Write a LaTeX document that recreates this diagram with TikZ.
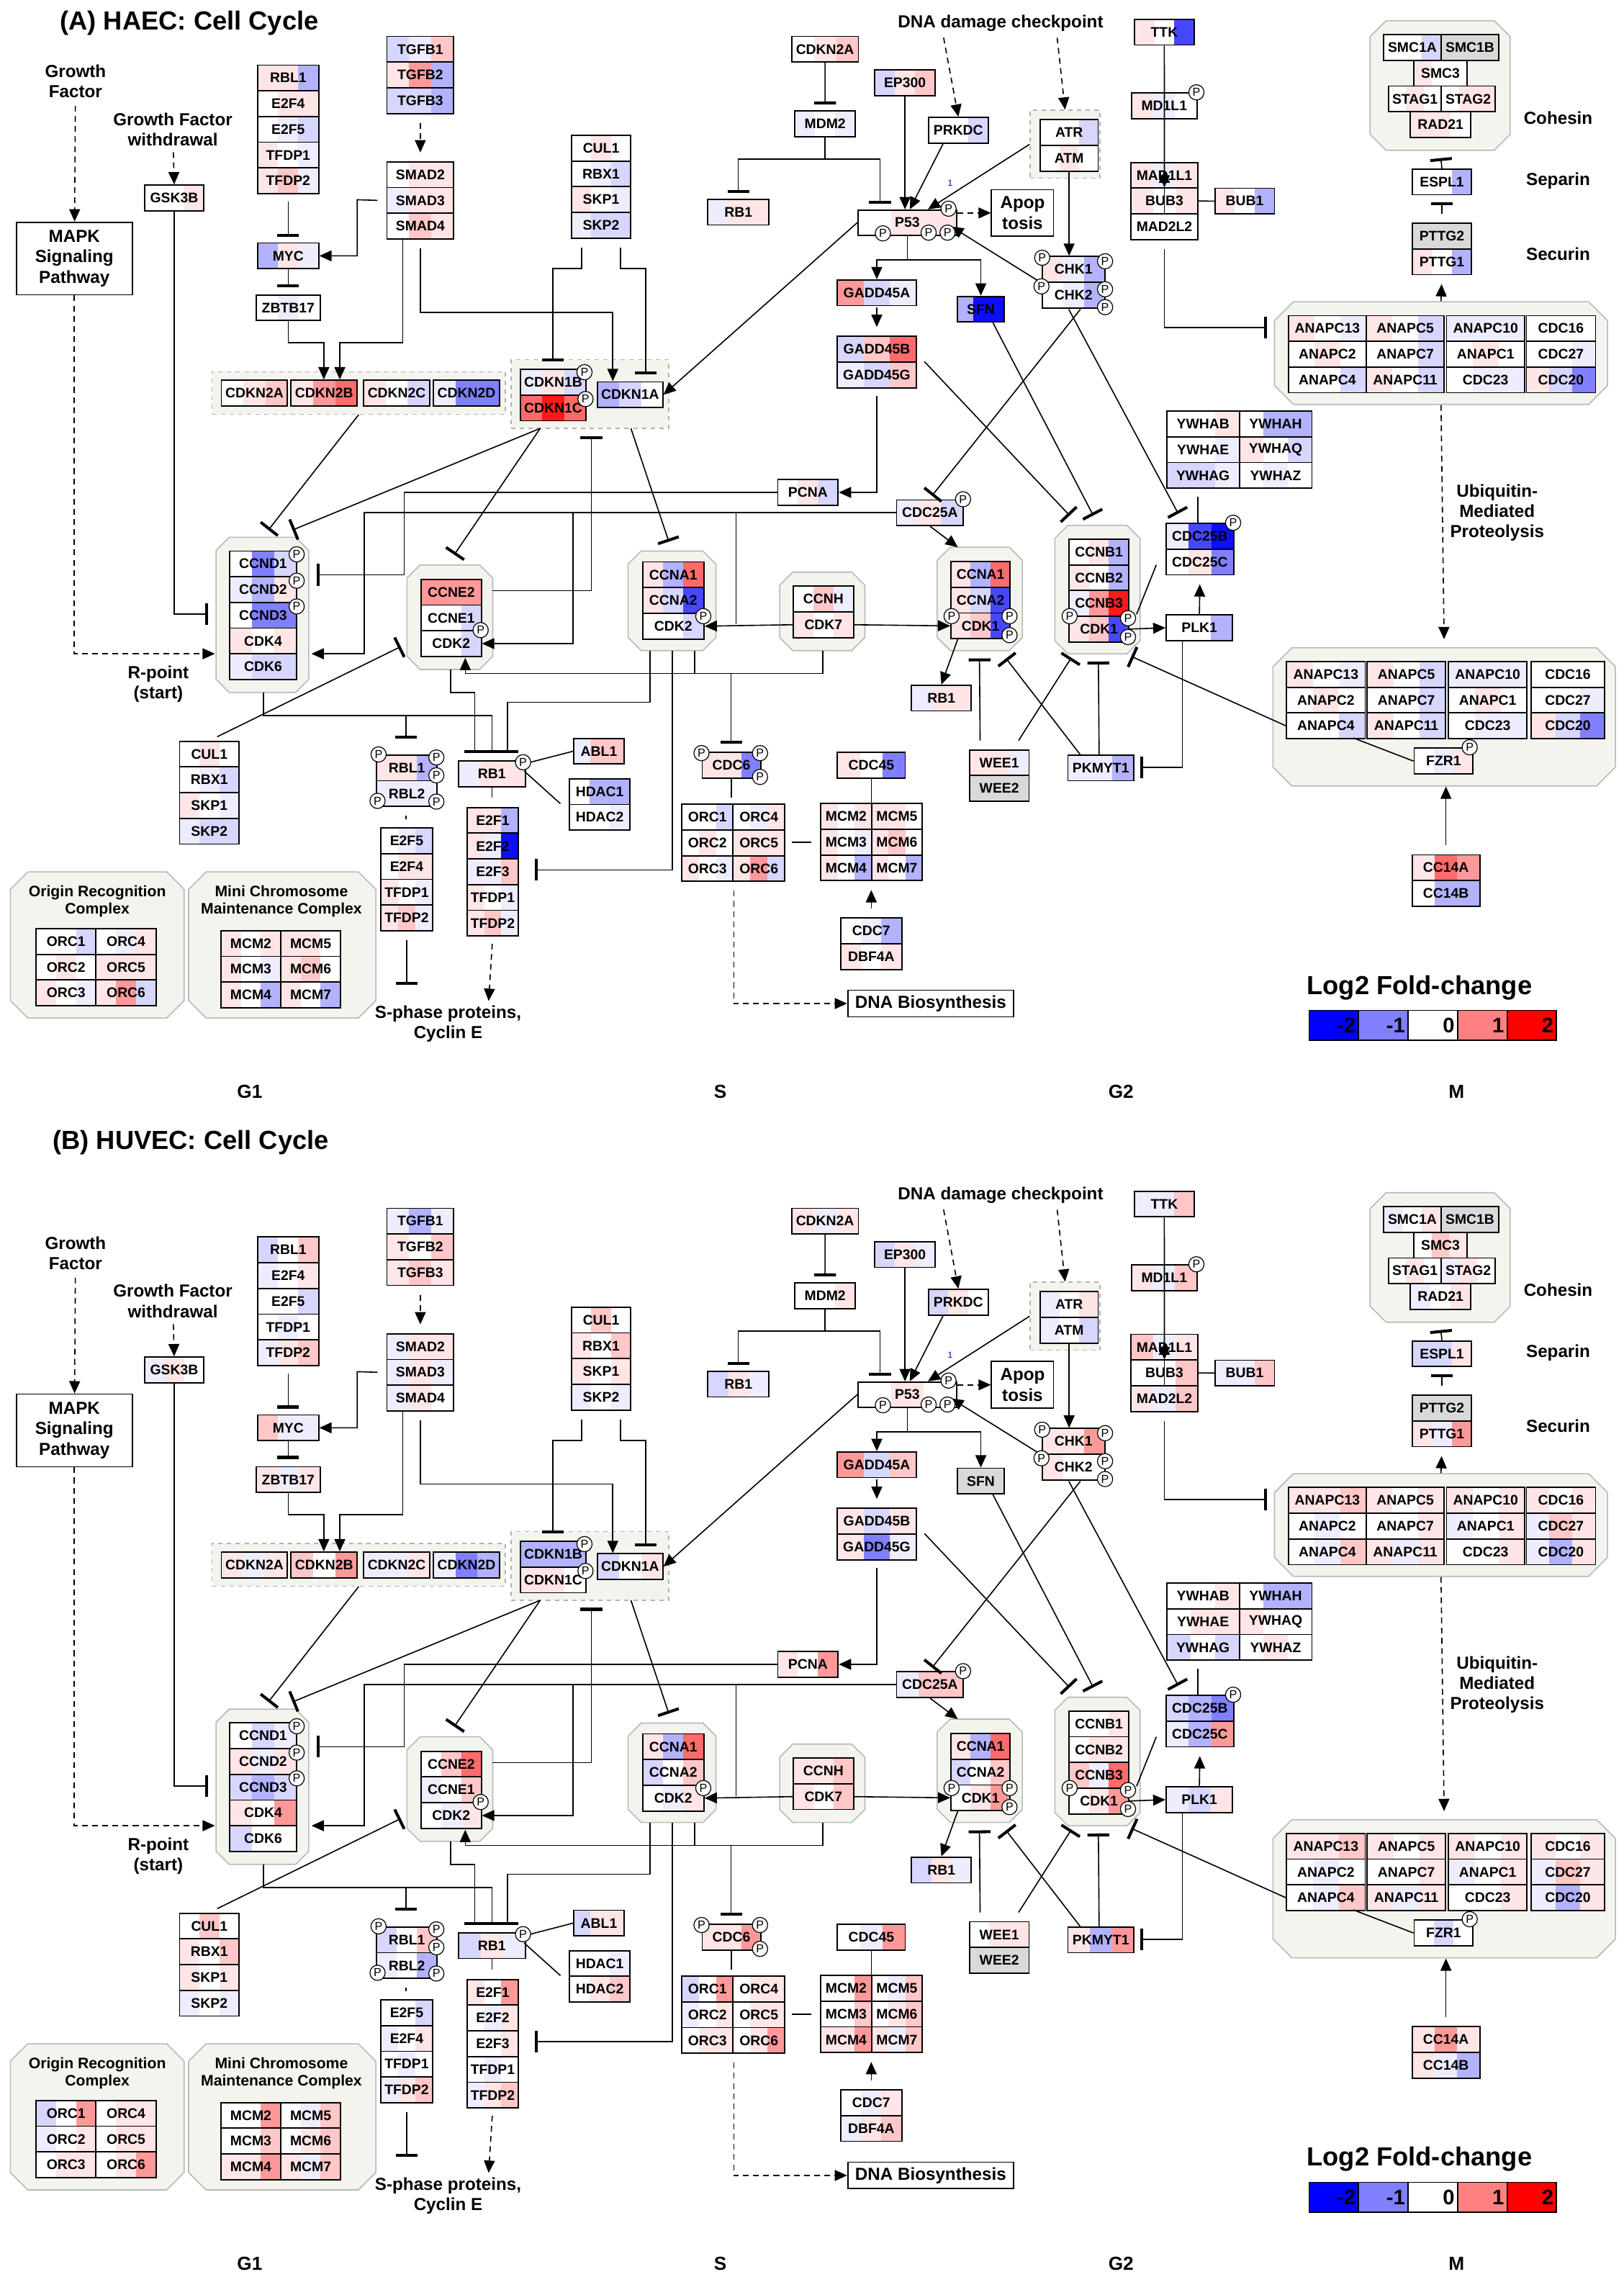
\documentclass[tikz,border=0pt]{standalone}
\usepackage{fontspec}
\setmainfont{Liberation Sans}
\usetikzlibrary{arrows.meta,calc}

\colorlet{w0}{white}
\colorlet{r1}{red!10}
\colorlet{r2}{red!22}
\colorlet{r3}{red!40}
\colorlet{r4}{red!58}
\colorlet{r5}{red!90}
\colorlet{b1}{blue!7}
\colorlet{b2}{blue!16}
\colorlet{b3}{blue!30}
\colorlet{b4}{blue!50}
\colorlet{b5}{blue!72}
\colorlet{b6}{blue!95}
\colorlet{gy}{gray!30}
\definecolor{cxfill}{RGB}{244,244,238}

\newcommand\gfont{\fontsize{9.6}{10}\selectfont\bfseries}
\newcommand\lfont{\fontsize{12}{14}\selectfont\bfseries}

% fold-change colours of each gene, three stripes per box
\newcommand\setgenes[2]{\foreach \g/\ca/\cb/\cc in {#2}{\expandafter\xdef\csname c-#1-\g\endcsname{{\ca}{\cb}{\cc}}}}
\newcommand\stripes[1]{\expandafter\expandafter\expandafter\stripesdo\csname c-\pnl-#1\endcsname}
\newcommand\stripesdo[3]{%
  \fill[#1] (path picture bounding box.south west) rectangle ($(path picture bounding box.north west)!1/3!(path picture bounding box.north east)$);
  \fill[#2] ($(path picture bounding box.south west)!1/3!(path picture bounding box.south east)$) rectangle ($(path picture bounding box.north west)!2/3!(path picture bounding box.north east)$);
  \fill[#3] ($(path picture bounding box.south west)!2/3!(path picture bounding box.south east)$) rectangle (path picture bounding box.north east);}
\newcommand\gstack[5]{\foreach \g [count=\i from 0] in {#5}{\node[gene=\g, minimum width=#4pt] (#1\i) at (#2,{#3+17.7*\i}) {\g};}}
% complex: name, x1, y1, x2, y2, chamfer
\newcommand\cpx[6]{%
  \draw[cxs] ({#2+#6},#3) -- ({#4-#6},#3) -- (#4,{#3+#6}) -- (#4,{#5-#6}) -- ({#4-#6},#5) -- ({#2+#6},#5) -- (#2,{#5-#6}) -- (#2,{#3+#6}) -- cycle;
  \node[inner sep=0pt, minimum width={(#4)-(#2)}, minimum height={(#5)-(#3)}] (#1) at ({(#2+#4)/2},{(#3+#5)/2}) {};}

\setgenes{A}{GSK3B/w0/w0/r1, RBL1/r1/r1/b3, RBL2/b1/b1/b1, E2F4/w0/r1/r1, E2F5/w0/b1/b2, TFDP1/r1/w0/b1, TFDP2/r1/r2/b1, MYC/b3/r1/b1, ZBTB17/w0/b1/w0, TGFB1/b2/b1/r2, TGFB2/r1/r3/b3, TGFB3/b2/b2/b3, SMAD2/w0/r1/r1, SMAD3/b1/r1/r1, SMAD4/w0/r2/r1, CDKN2A/w0/r1/r2, CDKN2B/r1/r3/r4, CDKN2C/r1/w0/b2, CDKN2D/b1/b4/b4, CDKN1B/b1/r1/b2, CDKN1C/r4/r5/r4, CDKN1A/b3/b2/w0, CUL1/w0/r1/w0, RBX1/w0/b1/b2, SKP1/r1/w0/b1, SKP2/b1/b2/b2, MDM2/b1/w0/b1, RB1/b1/r1/r1, EP300/b2/r1/r2, PRKDC/w0/w0/b2, ATR/w0/w0/b2, ATM/w0/r1/w0, P53/w0/r1/r1, GADD45A/r3/b2/b1, GADD45B/b2/r2/r4, GADD45G/b1/b2/r2, SFN/b3/b6/b6, CHK1/r1/b1/b3, CHK2/w0/b1/b3, PCNA/w0/r1/b2, CDC25A/b1/r1/b2, TTK/r1/w0/b5, MD1L1/r1/b1/w0, MAD1L1/r1/b1/r1, BUB3/r1/w0/r1, MAD2L2/w0/w0/w0, BUB1/r1/w0/b3, SMC1A/w0/w0/b2, SMC1B/gy/gy/gy, SMC3/r1/w0/w0, STAG1/w0/r1/w0, STAG2/w0/r1/r1, RAD21/r1/r1/w0, ESPL1/w0/w0/b3, PTTG2/gy/gy/gy, PTTG1/r1/w0/b3, ANAPC13/r1/w0/b1, ANAPC5/r1/w0/b2, ANAPC10/b1/b1/b1, CDC16/w0/w0/w0, ANAPC2/w0/r1/w0, ANAPC7/w0/w0/b2, ANAPC1/w0/r1/w0, CDC27/w0/w0/b1, ANAPC4/w0/w0/b2, ANAPC11/r1/w0/b2, CDC23/w0/b1/b1, CDC20/r1/b2/b4, YWHAB/w0/w0/r1, YWHAH/w0/b3/b3, YWHAE/w0/w0/b1, YWHAQ/r1/w0/b2, YWHAG/b2/b2/b1, YWHAZ/w0/b1/w0, CDC25B/b1/b5/b6, CDC25C/w0/r1/b4, PLK1/w0/w0/b3, CCNB1/w0/r1/b3, CCNB2/r1/w0/b3, CCNB3/b1/r3/r5, CDK1/r1/r2/b5, CCNA1/r1/b3/r4, CCNA2/r1/b2/b5, CDK2/w0/w0/b2, CCNH/w0/r2/b1, CDK7/r1/w0/r1, CCNE2/r3/r3/r3, CCNE1/w0/w0/b2, CCND1/w0/b4/b2, CCND2/b1/b3/r1, CCND3/w0/b4/b4, CDK4/r1/w0/r1, CDK6/b1/b2/b2, E2F1/r1/r1/b3, E2F2/r1/b1/b6, E2F3/b1/b1/r2, ABL1/b1/r2/r2, HDAC1/w0/b3/b3, HDAC2/w0/w0/b1, CDC6/r1/r1/b4, ORC1/w0/w0/b2, ORC2/w0/r1/w0, ORC3/r1/w0/b1, ORC4/w0/b1/r1, ORC5/r1/r1/r1, ORC6/r1/r3/b2, MCM2/r1/w0/r1, MCM3/r1/w0/b1, MCM4/r1/w0/b3, MCM5/r1/r1/w0, MCM6/r1/r2/w0, MCM7/r1/w0/b3, CDC45/r1/w0/b4, CDC7/w0/b1/b3, DBF4A/r1/w0/r1, WEE1/r1/r1/b1, WEE2/gy/gy/gy, PKMYT1/b1/b1/b3, CC14A/r1/r4/r3, CC14B/w0/b3/b3, FZR1/w0/b1/r1}
\setgenes{B}{GSK3B/b1/r1/w0, RBL1/b2/w0/r2, RBL2/b1/w0/b3, E2F4/b1/w0/r1, E2F5/w0/w0/b2, TFDP1/w0/b1/w0, TFDP2/b1/r1/r2, MYC/r2/b1/b1, ZBTB17/r1/b1/r1, TGFB1/b1/b3/b1, TGFB2/r1/w0/r2, TGFB3/r1/r2/r1, SMAD2/b1/r1/r1, SMAD3/b1/r1/b1, SMAD4/b1/r1/w0, CDKN2A/r1/b1/r1, CDKN2B/r2/w0/r3, CDKN2C/b1/b1/r1, CDKN2D/b1/b4/b3, CDKN1B/b3/b3/b3, CDKN1C/r1/r1/w0, CDKN1A/b2/w0/r1, CUL1/w0/r2/w0, RBX1/r1/w0/r2, SKP1/r1/w0/r1, SKP2/b1/w0/b1, MDM2/w0/w0/r1, RB1/b2/r1/b1, EP300/b2/r1/b1, PRKDC/b2/r1/w0, ATR/b1/w0/r1, ATM/b1/w0/b2, P53/w0/r1/w0, GADD45A/r3/b2/r2, GADD45B/r1/b2/r1, GADD45G/r1/b4/b1, SFN/gy/gy/gy, CHK1/r1/r1/r3, CHK2/r1/w0/w0, PCNA/r1/w0/r3, CDC25A/b1/r2/r2, TTK/b1/b1/r2, MD1L1/r1/b1/r2, MAD1L1/r2/b1/r1, BUB3/w0/w0/r2, MAD2L2/r1/b1/r2, BUB1/b1/b1/r2, SMC1A/b1/w0/r1, SMC1B/gy/gy/gy, SMC3/w0/r2/r1, STAG1/w0/r1/w0, STAG2/b1/r1/w0, RAD21/b1/w0/r1, ESPL1/b2/b2/r1, PTTG2/gy/gy/gy, PTTG1/r1/b1/r3, ANAPC13/r1/r1/r2, ANAPC5/r1/w0/r1, ANAPC10/r1/w0/r1, CDC16/r1/w0/r1, ANAPC2/w0/b1/w0, ANAPC7/w0/w0/r1, ANAPC1/b1/w0/r1, CDC27/b1/r2/r1, ANAPC4/w0/b1/r2, ANAPC11/r1/b1/r1, CDC23/w0/w0/r1, CDC20/b1/b3/r1, YWHAB/w0/w0/r1, YWHAH/w0/b3/b3, YWHAE/w0/r1/r1, YWHAQ/r1/w0/w0, YWHAG/b2/w0/b2, YWHAZ/w0/r1/w0, CDC25B/b2/b3/b4, CDC25C/b1/b3/r3, PLK1/b1/b2/r1, CCNB1/w0/w0/r1, CCNB2/w0/r1/r1, CCNB3/r2/b1/r4, CDK1/w0/r1/r3, CCNA1/r1/b3/r4, CCNA2/b2/w0/r2, CDK2/w0/b1/r1, CCNH/r1/r1/r2, CDK7/r1/w0/r2, CCNE2/w0/r2/r4, CCNE1/b1/w0/r2, CCND1/w0/b2/b1, CCND2/r1/b1/r1, CCND3/b2/b3/b2, CDK4/r1/w0/r3, CDK6/b2/w0/w0, E2F1/r1/w0/r3, E2F2/w0/b1/r1, E2F3/w0/w0/r1, ABL1/b2/r1/r1, HDAC1/w0/w0/b1, HDAC2/w0/r1/r2, CDC6/r1/r1/r3, ORC1/b2/w0/r3, ORC2/b1/w0/r1, ORC3/w0/r1/r1, ORC4/w0/r1/r1, ORC5/w0/r1/r1, ORC6/w0/r1/r3, MCM2/w0/w0/r3, MCM3/w0/w0/r2, MCM4/r1/r1/r3, MCM5/w0/b1/r2, MCM6/w0/r1/r2, MCM7/r1/b1/r2, CDC45/w0/b1/r3, CDC7/w0/b1/r1, DBF4A/b1/r1/r2, WEE1/w0/r1/r1, WEE2/gy/gy/gy, PKMYT1/r1/b3/r3, CC14A/r1/r3/r1, CC14B/r1/b1/b3, FZR1/w0/b2/w0}

\begin{document}
\begin{tikzpicture}[x=1pt, y=-1pt, line width=0.8pt,
  gene/.style={draw, line width=0.9pt, anchor=north west, minimum height=17.7pt, inner sep=0pt, font=\gfont, path picture={\stripes{#1}}},
  lab/.style={font=\lfont, align=center, inner sep=0pt},
  box/.style={draw, line width=0.9pt, font=\lfont, align=center, inner sep=0pt},
  cxs/.style={draw=gray!55, fill=cxfill, line width=0.8pt},
  grp/.style={draw=gray!60, dashed, fill=cxfill, inner sep=0pt, line width=0.7pt},
  phos/.style={circle, draw, fill=white, inner sep=0pt, minimum size=10.5pt, line width=0.6pt, font=\fontsize{8}{8}\selectfont},
  act/.style={-{Triangle[width=7.5pt,length=8.5pt]}},
  dact/.style={act, dash pattern=on 4pt off 3pt},
  inh/.style={-{Bar[width=15pt,line width=2pt]}}]
\fill[white] (0,0) rectangle (1118,1568);
\useasboundingbox (0,0) rectangle (1118,1568);
\foreach \pnl/\dy/\tx/\ty/\ttl in {A/0/41/16/{(A) HAEC: Cell Cycle}, B/807/36/-20/{(B) HUVEC: Cell Cycle}} {
\begin{scope}[yshift=-\dy pt]
% titles and phases
\node[font=\fontsize{18}{20}\selectfont\bfseries, anchor=west, inner sep=0pt] (ttl) at (\tx,\ty) {\ttl};
\foreach \lab/\lx [count=\k] in {G1/172, S/496, G2/772, M/1003}
  \node[font=\fontsize{13}{15}\selectfont\bfseries] (phase\k) at (\lx,752) {\lab};
% legend
\node[font=\fontsize{18}{20}\selectfont\bfseries] (lgt) at (977.5,680) {Log2 Fold-change};
\foreach \v/\cl [count=\k from 0] in {-2/blue, -1/blue!50, 0/white, 1/red!50, 2/red}
  \node[draw, line width=0.9pt, fill=\cl, anchor=north west, minimum width=34.1pt, minimum height=20.6pt, inner sep=1pt, text width=30pt, align=right, font=\fontsize{14.5}{15}\selectfont\bfseries] (lg\k) at ({901+34.1*\k},695.3) {\v};

% complexes (drawn first, genes go on top)
\cpx{coh}{943.5}{14.3}{1040}{103.5}{11}
\cpx{apt}{877.7}{207.8}{1107}{278.5}{13}
\cpx{cbx}{726.4}{361.8}{785.1}{450.2}{9}
\cpx{c1x}{645.4}{376.8}{704}{448}{9}
\cpx{chx}{536.9}{394}{595.6}{448}{9}
\cpx{c2x}{432.6}{379.5}{493}{448}{9}
\cpx{cex}{280.3}{389}{339.3}{461}{9}
\cpx{cdx}{148.8}{370}{212.6}{476.8}{9}
\cpx{apl}{876.6}{446.1}{1112.5}{541.2}{13}
\cpx{orx}{7.1}{600.4}{126.8}{701}{12}
\cpx{mcx}{129.9}{600.4}{258.8}{701}{12}

% G1 side
\node[lab] (gf) at (52,56) {Growth\\Factor};
\node[box, minimum width=80pt, minimum height=50pt] (mapk) at (51.2,178) {MAPK\\Signaling\\Pathway};
\node[lab] (gfw) at (119,89) {Growth Factor\\withdrawal};
\node[lab] (rpt) at (109,471) {R-point\\(start)};
\node[gene=GSK3B, minimum width=41pt] (gsk) at (99,127) {GSK3B};
\gstack{ef}{177}{44.4}{42}{RBL1,E2F4,E2F5,TFDP1,TFDP2}
\node[gene=MYC, minimum width=42pt] (myc) at (177,166.9) {MYC};
\node[gene=ZBTB17, minimum width=44pt] (zbt) at (176,202.6) {ZBTB17};
\gstack{tg}{266}{24.6}{46}{TGFB1,TGFB2,TGFB3}
\gstack{sm}{266}{111}{46}{SMAD2,SMAD3,SMAD4}
\node[grp, minimum width=202pt, minimum height=29.3pt] (n2g) at (247,270.55) {};
\foreach \g/\gx [count=\k] in {CDKN2A/152, CDKN2B/200, CDKN2C/250, CDKN2D/298}
  \node[gene=\g, minimum width=45.5pt] (n2\k) at (\gx,261.3) {\g};
\node[grp, minimum width=108.6pt, minimum height=47.3pt] (k1g) at (406.3,271.35) {};
\gstack{kb}{358}{253.9}{45}{CDKN1B,CDKN1C}
\node[gene=CDKN1A, minimum width=45pt] (k1a) at (411,262.5) {CDKN1A};
\gstack{cu}{393}{92.7}{41}{CUL1,RBX1,SKP1,SKP2}

% p53 and DNA damage
\node[gene=CDKN2A, minimum width=46pt] (n2t) at (544.7,24.6) {CDKN2A};
\node[gene=MDM2, minimum width=41.5pt] (mdm) at (547,75.9) {MDM2};
\node[gene=RB1, minimum width=42pt] (rbt) at (487,136.8) {RB1};
\node[gene=EP300, minimum width=41.5pt] (ep) at (602,47.6) {EP300};
\node[gene=PRKDC, minimum width=41pt] (prk) at (639,80.4) {PRKDC};
\node[lab, anchor=west] (dna) at (618,16) {DNA damage checkpoint};
\node[grp, minimum width=48.1pt, minimum height=46.9pt] (atg) at (733.45,99.35) {};
\gstack{at}{715.8}{82}{40}{ATR,ATM}
\node[gene=P53, minimum width=68pt, minimum height=17.3pt] (p53) at (590.4,144.2) {P53};
\node[box, minimum width=42.7pt, minimum height=32.1pt] (apop) at (704.15,146.65) {Apop\\tosis};
\node[font=\fontsize{6}{7}\selectfont, text=blue!70!black, inner sep=0pt] (one) at (654.4,126.2) {1};
\node[gene=GADD45A, minimum width=54.3pt] (g5a) at (576.2,192.3) {GADD45A};
\gstack{g5}{576.2}{231.2}{54.3}{GADD45B,GADD45G}
\node[gene=SFN, minimum width=32pt] (sfn) at (659,203.6) {SFN};
\gstack{ck}{717.2}{176.2}{43.2}{CHK1,CHK2}
\node[gene=PCNA, minimum width=41.5pt] (pcna) at (535.2,329.8) {PCNA};
\node[gene=CDC25A, minimum width=46pt] (c5a) at (617,343.8) {CDC25A};

% spindle checkpoint, cohesin, APC/C
\node[gene=TTK, minimum width=41.3pt] (ttk) at (780.7,12.8) {TTK};
\node[gene=MD1L1, minimum width=45pt] (md1) at (778.8,63.6) {MD1L1};
\gstack{md}{778.4}{111.4}{46}{MAD1L1,BUB3,MAD2L2}
\node[gene=BUB1, minimum width=41pt] (bub1) at (836.2,129.2) {BUB1};
\node[gene=SMC1A, minimum width=39.7pt] (smca) at (952.3,23.4) {SMC1A};
\node[gene=SMC1B, minimum width=39.7pt] (smcb) at (992,23.4) {SMC1B};
\node[gene=SMC3, minimum width=37pt] (smc3) at (973,41.1) {SMC3};
\node[gene=STAG1, minimum width=36.1pt] (sta) at (955.9,58.8) {STAG1};
\node[gene=STAG2, minimum width=37.3pt] (stb) at (992,58.8) {STAG2};
\node[gene=RAD21, minimum width=41.5pt] (rad) at (970.8,76.5) {RAD21};
\node[gene=ESPL1, minimum width=41pt] (esp) at (972,115.9) {ESPL1};
\gstack{pt}{972}{153.3}{41}{PTTG2,PTTG1}
\node[lab] (lcoh) at (1073,81.3) {Cohesin};
\node[lab] (lsep) at (1073,124.5) {Separin};
\node[lab] (lsec) at (1073,175) {Securin};
\gstack{aa}{886.7}{216.9}{53.8}{ANAPC13,ANAPC2,ANAPC4}
\gstack{ab}{940.5}{216.9}{53.5}{ANAPC5,ANAPC7,ANAPC11}
\gstack{ac}{995.7}{216.9}{53.8}{ANAPC10,ANAPC1,CDC23}
\gstack{ad}{1050.7}{216.9}{47.6}{CDC16,CDC27,CDC20}
\node[lab] (ubq) at (1031,353) {Ubiquitin-\\Mediated\\Proteolysis};
\gstack{ya}{803}{282.7}{50}{YWHAB,YWHAE,YWHAG}
\gstack{yb}{853}{282.7}{50}{YWHAH,YWHAQ,YWHAZ}
\gstack{cc}{802.6}{360}{46.6}{CDC25B,CDC25C}
\node[gene=PLK1, minimum width=45.8pt] (plk) at (802.6,423) {PLK1};

% cyclin/CDK complexes
\gstack{nb}{735.9}{370.8}{40.9}{CCNB1,CCNB2,CCNB3,CDK1}
\gstack{na}{654.4}{386.3}{40.8}{CCNA1,CCNA2,CDK1}
\gstack{nh}{545.9}{403.2}{41.4}{CCNH,CDK7}
\gstack{nc}{442.1}{386.5}{42.2}{CCNA1,CCNA2,CDK2}
\gstack{ne}{289.6}{398.5}{41.4}{CCNE2,CCNE1,CDK2}
\gstack{nd}{157.6}{379}{46.2}{CCND1,CCND2,CCND3,CDK4,CDK6}

% lower G1 / S
\gstack{cl}{123.2}{510}{41}{CUL1,RBX1,SKP1,SKP2}
\gstack{rl}{259}{519.5}{41.5}{RBL1,RBL2}
\gstack{e5}{261.8}{569.7}{35.6}{E2F5,E2F4,TFDP1,TFDP2}
\node[gene=RB1, minimum width=46.2pt] (rbl) at (315.2,523.5) {RB1};
\gstack{e1}{321.1}{555.6}{35.5}{E2F1,E2F2,E2F3,TFDP1,TFDP2}
\node[gene=ABL1, minimum width=34.6pt] (abl) at (394.7,508) {ABL1};
\gstack{hd}{391.8}{535.8}{41.5}{HDAC1,HDAC2}
\node[lab] (sph) at (308.6,705) {S-phase proteins,\\Cyclin E};
\node[gene=CDC6, minimum width=40.3pt] (cdc6) at (483.1,517.6) {CDC6};
\gstack{oa}{469.1}{553.4}{35.3}{ORC1,ORC2,ORC3}
\gstack{ob}{504.4}{553.4}{35.6}{ORC4,ORC5,ORC6}
\gstack{ma}{564.8}{552.9}{34.9}{MCM2,MCM3,MCM4}
\gstack{mb}{599.7}{552.9}{35}{MCM5,MCM6,MCM7}
\node[gene=CDC45, minimum width=46.7pt] (c45) at (576.2,517.6) {CDC45};
\gstack{c7}{578.6}{631.7}{41.9}{CDC7,DBF4A}
\node[box, minimum width=114.2pt, minimum height=18.3pt] (dnab) at (640.9,691.05) {DNA Biosynthesis};
\node[gene=RB1, minimum width=41.2pt] (rbr) at (627.2,471.4) {RB1};
\gstack{we}{667.2}{515.9}{41}{WEE1,WEE2}
\node[gene=PKMYT1, minimum width=45.3pt] (pkm) at (735,519.5) {PKMYT1};

% M phase
\gstack{la}{885.5}{455.1}{54.2}{ANAPC13,ANAPC2,ANAPC4}
\gstack{lb}{941.1}{455.1}{53.8}{ANAPC5,ANAPC7,ANAPC11}
\gstack{lc}{997.1}{455.1}{53.9}{ANAPC10,ANAPC1,CDC23}
\gstack{ld}{1053.9}{455.1}{50.7}{CDC16,CDC27,CDC20}
\node[gene=FZR1, minimum width=40.6pt] (fzr) at (973.4,514.8) {FZR1};
\gstack{cf}{972}{588.2}{46.6}{CC14A,CC14B}

% ORC and MCM complexes
\node[lab, font=\fontsize{10.5}{12}\selectfont\bfseries] (orl) at (67,620.7) {Origin Recognition\\Complex};
\gstack{pa}{24.4}{639}{41.2}{ORC1,ORC2,ORC3}
\gstack{pb}{65.6}{639}{41.5}{ORC4,ORC5,ORC6}
\node[lab, font=\fontsize{10.5}{12}\selectfont\bfseries] (mcl) at (193.8,620.8) {Mini Chromosome\\Maintenance Complex};
\gstack{qa}{151.7}{640.4}{41.2}{MCM2,MCM3,MCM4}
\gstack{qb}{192.9}{640.4}{41.2}{MCM5,MCM6,MCM7}

% connectors
\draw[dact, shorten <=5pt] (gf) -- (mapk);
\draw[dact] (mapk.south) |- (148,450.2);
\draw[dact, shorten <=4pt] (gfw) -- (gsk.north);
\draw[inh] (gsk.south) |- (143.4,423);
\draw[inh, shorten <=5pt, shorten >=4pt] (ef4.south) -- (myc.north);
\draw[inh, shorten >=5pt] (myc.south) -- (zbt.north);
\draw[act] (zbt.south) |- (223,236) -- (223,261.3);
\draw[act] ([xshift=-12pt]sm2.south) |- (234,236) -- (234,261.3);
\draw[act] ([xshift=-6pt]sm1.west) -- (246,137.55) |- (myc.east);
\draw[act, shorten <=6pt] (sm2.south) |- (422,215) -- (422,262.5);
\draw[dact, shorten <=6pt, shorten >=6pt] (tg2.south) -- (sm0.north);
\draw[inh, shorten <=6pt] ([xshift=-13.5pt]cu3.south) |- (380.7,185) -- (380.7,249);
\draw[inh, shorten <=6pt] ([xshift=13.3pt]cu3.south) |- (444.7,185) -- (444.7,257.6);
\draw[inh, shorten >=4pt] (n2t.south) -- (mdm.north);
\draw[inh, shorten >=4pt] (mdm.south) -- ++(0,15) -| (rbt.north);
\draw[inh, shorten >=4pt] (mdm.south) -- ++(0,15) -| (606,144.2);
\draw[act] (ep.south) -- (ep.south |- p53.north);
\draw[act] ([xshift=-10.5pt]prk.south) -- (626.5,144.2);
\draw[act] (atg.west) -- (639,144.2);
\draw[dact, shorten <=4pt] ([xshift=-40pt]dna.south) -- (prk.north);
\draw[dact, shorten <=4pt] ([xshift=38.5pt]dna.south) -- (atg.north);
\draw[act] (at1.south) -- (at1.south |- ck0.north);
\draw[dact] (p53.east |- apop.west) -- (apop.west);
\draw[act] (p53.west) -- (k1a.east);
\draw[act] (p53.south) -- ++(0,16.5) -| (g5a.north);
\draw[act] (p53.south) -- ++(0,16.5) -| (sfn.north);
\draw[act, shorten <=1pt, shorten >=6pt] (g5a.south) -- (g50.north);
\draw[act, shorten <=5pt] (g51.south) |- (pcna.east);
\draw[act] (ck0.south west) -- (655,156);
\draw[inh] (pcna.west) -| (278.4,395.8) -- (218,395.8);
\draw[act] (c5a.west) -| (250.7,450.2) -- (214.5,450.2);
\draw[act] (394.7,352.65) |- (ne2.east);
\draw (506.8,352.65) -- (506.8,429.9);
\draw[act] (nh1.west) -- (nc2.east);
\draw[act] (nh1.east) -- (na2.west);
\draw[act] (c5a.south) -- (659.6,376.8);
\draw[act] (659.6,440) -- (rbr.north);
\draw[inh] ([xshift=-13.2pt,yshift=6pt]we0.north) -- (674.5,453.4);
\draw[inh] ([xshift=13.3pt,yshift=6pt]we0.north) -- (737.8,452.9);
\draw[inh] ([xshift=-14.3pt]pkm.north) -- (692.8,453.4);
\draw[inh] ([xshift=-1.2pt]pkm.north) -- (756.4,455.6);
\draw[inh] ([xshift=-11.7pt]plk.south) |- (785.1,528.35);
\draw[act] (nb3.east) -- (plk.west);
\draw[act, shorten >=6pt] (plk.north) -- (cc1.south);
\draw (796.3,389) -- (782.7,423);
\draw (825,342) -- (825,360);
\draw[inh] (la2.west) -- (779,452);
\draw[inh, shorten <=6pt] (md2.south) |- (872.4,225.5);
\draw (md1.east) -- (bub1.west);
\draw[act] (ttk.south) -- (md1.north);
\draw[act, shorten >=6pt] (md1.south) -- (md0.north);
\draw[act, shorten >=6pt] (apt.north) -- (pt1.south);
\draw[inh, shorten <=6pt, shorten >=5pt] (pt0.north) -- (esp.south);
\draw[inh, shorten >=5pt] (esp.north) -- (coh.south);
\draw[dact, shorten >=5.5pt] (apt.south) -- (apl.north);
\draw[act, shorten <=6pt] (cf0.north) -- (cf0.north |- apl.south);
\draw (932,508.2) -- (fzr.west);
\draw[inh] ([xshift=8.3pt]sfn.south) -- (752.9,355);
\draw[inh] (636.6,249) -- (736.6,355);
\draw[inh] (744,213) -- (641.8,341.4);
\draw[inh] (736,213) -- (811.4,353.7);
\draw[inh] (n2g.south) -- (184.8,365);
\draw[inh] (372,295) -- (201.4,365);
\draw[inh] (372,295) -- (312.8,382);
\draw[inh] (434.5,295) -- (460.6,373);
\draw[inh] (339.3,406.7) -| (407.2,300.2);
\draw[inh, shorten <=6pt] (cl0.north) -- (276,445.3);
\draw (181.3,476.8) |- (279.6,492.8);
\draw[inh] (279.6,492.8) -- (279.6,508.6);
\draw[inh] (279.6,492.8) -| (338.9,518.6);
\draw[inh] (310.4,461) |- (327,476.8) -- (327,518.6);
\draw[inh] (447.5,448) |- (349.5,483.6) -- (349.5,518.6);
\draw[inh] (462.9,448) |- (368.5,599);
\draw (478.3,448) |- (566.7,463.7) -- (566.7,448);
\draw[act] (566.7,463.7) -| (320.4,453);
\draw[inh] (503.5,463.7) -- (503.5,512.1);
\draw (cdc6.south) -- ++(0,13);
\draw (545.4,580) -- (558.9,580);
\draw (c45.south) -- ++(0,17);
\draw[act, shorten <=6pt, shorten >=6pt] (c70.north) -- (ma2.south -| c70.north);
\draw[dact, shorten <=6pt] (oa2.south east) |- (dnab.west);
\draw (rbl.south) -- ++(0,7);
\draw (361,526) -- (abl.west);
\draw (361,531) -- (385.9,553.4);
\draw[inh, shorten <=6pt] (e53.south) -- ++(0,37);
\draw[dact, shorten <=5pt] (e14.south) -- (336.5,689.3);
\draw[dashed] (279.6,561.6) -- (279.6,564.3);

% phosphorylation marks
\foreach \px/\py [count=\k] in {402.5/256.3, 403.2/274.8, 653.2/143.7, 608/160.7, 639.5/160.2, 652.5/160.2, 717.7/177.5, 717.2/197.2, 761/179.9, 761/199.2, 761/211.5, 823.9/63.6, 663.2/343.8, 849.2/360, 776.8/425.7, 776.8/438.7, 736.6/424.3, 655.3/424.3, 695.2/424.3, 695.2/437.4, 484.3/424.3, 331/433.9, 204.3/381.7, 204.3/399.9, 204.3/417.6, 260.7/519.5, 300.5/521.6, 300.5/533.9, 260/551.5, 300.5/552, 360.2/524.9, 483.1/518.6, 523.4/518.6, 523.4/535, 1012.1/514.6}
  \node[phos] (ph\k) at (\px,\py) {P};
\end{scope}}
\end{tikzpicture}
\end{document}
